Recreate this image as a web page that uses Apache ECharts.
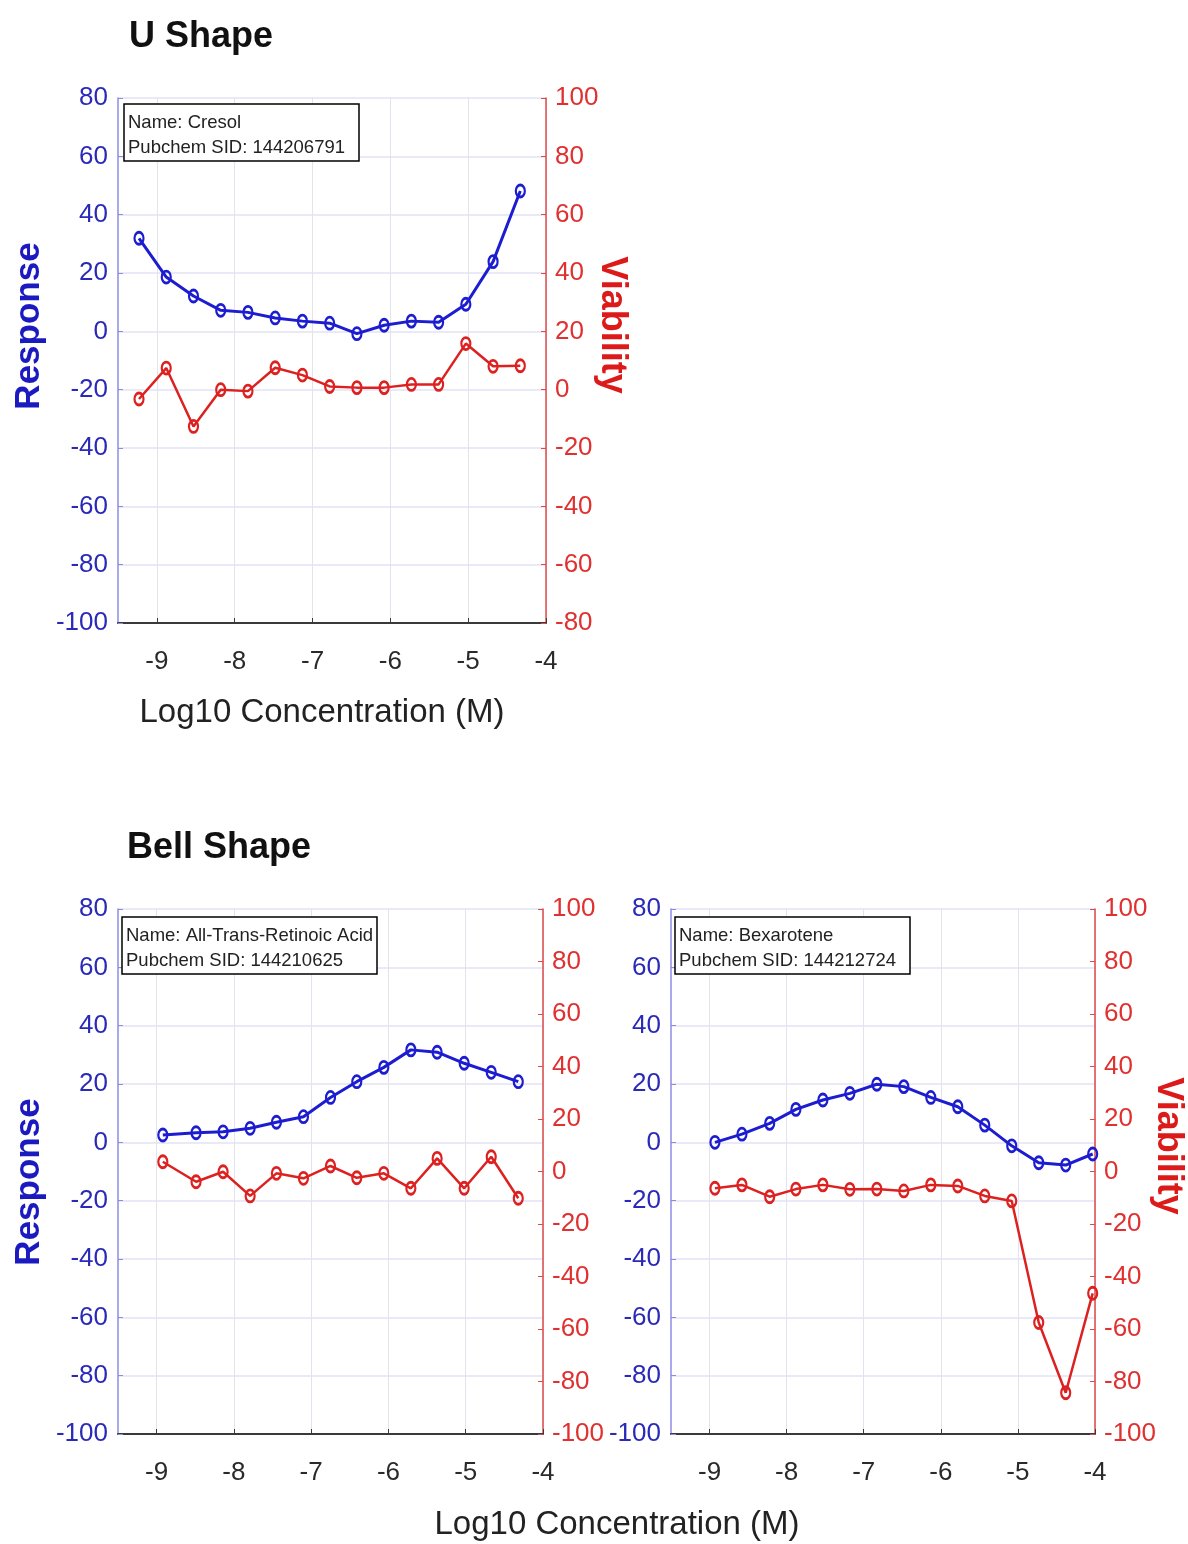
<!DOCTYPE html>
<html><head><meta charset="utf-8">
<script src="https://cdn.jsdelivr.net/npm/echarts@6/dist/echarts.min.js"></script>
<style>html,body{margin:0;padding:0;background:#fff;} #c{width:1188px;height:1544px;}</style>
</head><body><div id="c"></div>
<script>
// ---- data ----
const xTickValues = [-9, -8, -7, -6, -5, -4];

const cresolConc = [-9.23, -8.88, -8.53, -8.18, -7.83, -7.48, -7.13, -6.78, -6.43, -6.08, -5.73, -5.38, -5.03, -4.68, -4.33];
const cresolResponse = [31.9, 18.6, 12.1, 7.2, 6.5, 4.6, 3.5, 2.8, -0.8, 2.1, 3.5, 3.1, 9.3, 23.9, 48.1];
const cresolViability = [-3.2, 7.4, -12.6, 0, -0.5, 7.5, 5, 1.1, 0.7, 0.7, 1.8, 1.8, 15.8, 8, 8.2];

const atraConc = [-8.92, -8.49, -8.14, -7.79, -7.45, -7.10, -6.75, -6.41, -6.06, -5.71, -5.37, -5.02, -4.67, -4.32];
const atraResponse = [2.5, 3.3, 3.6, 4.8, 6.9, 8.8, 15.4, 20.8, 25.7, 31.7, 30.9, 27.1, 24.0, 20.8];
const atraViability = [3.7, -3.9, -0.1, -9.3, -0.7, -2.6, 2.1, -2.4, -0.7, -6.4, 5.0, -6.4, 5.6, -10.2];

const bexConc = [-8.93, -8.58, -8.22, -7.88, -7.53, -7.18, -6.83, -6.48, -6.13, -5.78, -5.43, -5.08, -4.73, -4.38, -4.03];
const bexResponse = [0, 2.8, 6.5, 11.3, 14.5, 16.8, 19.9, 19.1, 15.4, 12.2, 5.9, -1.2, -7.0, -7.8, -4.0];
const bexViability = [-6.4, -5.1, -9.6, -6.7, -5.1, -6.8, -6.7, -7.4, -5.1, -5.5, -9.3, -11.2, -57.5, -84.3, -46.4];

const boxTexts = [
  'Name: Cresol\nPubchem SID: 144206791',
  'Name: All-Trans-Retinoic Acid\nPubchem SID: 144210625',
  'Name: Bexarotene\nPubchem SID: 144212724'
];

// ---- styling ----
const BLUE = '#1c1cd0', RED = '#dd2020';
const BLUE_AX = '#8c8ce6', RED_AX = '#dd4a4a';
const tickFont = "'Liberation Sans',Arial,sans-serif";
const mainFont = "'Liberation Sans',Arial,sans-serif";
const TICK_FS = 26;

const zip = (xs, ys) => xs.map((x, i) => [x, ys[i]]);

const grids = [
  {left: 118, top: 98, width: 428, height: 525},
  {left: 118, top: 909, width: 425, height: 525},
  {left: 671, top: 909, width: 424, height: 525}
];

function makeX(i) {
  return {
    type: 'value', gridIndex: i, min: -9.5, max: -4,
    axisLine: {show: true, onZero: false, lineStyle: {color: '#3a3a3a', width: 2}},
    axisTick: {show: true, inside: true, length: 5, customValues: xTickValues, lineStyle: {color: '#3a3a3a'}},
    axisLabel: {customValues: xTickValues, margin: 26, color: '#2a2a2a', fontSize: TICK_FS, fontFamily: tickFont},
    splitLine: {show: true, lineStyle: {color: '#e3e3ee', width: 1}}
  };
}
function makeLeftY(i) {
  return {
    type: 'value', gridIndex: i, position: 'left', min: -100, max: 80, interval: 20,
    axisLine: {show: true, lineStyle: {color: BLUE_AX, width: 1.5}},
    axisTick: {show: true, inside: true, length: 5, lineStyle: {color: BLUE_AX}},
    axisLabel: {margin: 10, color: '#2a2ab8', fontSize: TICK_FS, fontFamily: tickFont},
    splitLine: {show: true, lineStyle: {color: '#e2e2f4', width: 1.5}}
  };
}
function makeRightY(i, min) {
  return {
    type: 'value', gridIndex: i, position: 'right', min: min, max: 100, interval: 20,
    axisLine: {show: true, lineStyle: {color: RED_AX, width: 1.5}},
    axisTick: {show: true, inside: true, length: 5, lineStyle: {color: RED_AX}},
    axisLabel: {margin: 9, color: '#e03030', fontSize: TICK_FS, fontFamily: tickFont},
    splitLine: {show: false}
  };
}
function makeSeries(xi, yi, data, color, lw) {
  return {
    type: 'line', xAxisIndex: xi, yAxisIndex: yi, data: data,
    symbol: 'circle', symbolSize: [9, 12],
    lineStyle: {color: color, width: lw},
    itemStyle: {color: 'rgba(255,255,255,0)', borderColor: color, borderWidth: 2.5},
    emphasis: {disabled: true}, animation: false, z: 3
  };
}
function boxTitle(text, left, top, padRight) {
  return {
    text: text, left: left, top: top,
    borderColor: '#000', borderWidth: 1.5, backgroundColor: '#fff',
    padding: [6, padRight, 1, 4],
    textStyle: {fontSize: 18.5, fontWeight: 'normal', fontFamily: mainFont, color: '#222', lineHeight: 25}
  };
}
function label(text, x, y, opts) {
  return Object.assign({
    type: 'text', x: x, y: y, z: 10,
    style: Object.assign({text: text, align: 'center', verticalAlign: 'middle', fontFamily: mainFont}, opts.style)
  }, opts.el || {});
}

const option = {
  backgroundColor: '#fff',
  animation: false,
  grid: grids,
  xAxis: [makeX(0), makeX(1), makeX(2)],
  yAxis: [makeLeftY(0), makeRightY(0, -80), makeLeftY(1), makeRightY(1, -100), makeLeftY(2), makeRightY(2, -100)],
  title: [
    boxTitle(boxTexts[0], 124, 104, 14),
    boxTitle(boxTexts[1], 122, 917, 4),
    boxTitle(boxTexts[2], 675, 917, 14)
  ],
  series: [
    makeSeries(0, 0, zip(cresolConc, cresolResponse), BLUE, 3),
    makeSeries(0, 1, zip(cresolConc, cresolViability), RED, 2.5),
    makeSeries(1, 2, zip(atraConc, atraResponse), BLUE, 3),
    makeSeries(1, 3, zip(atraConc, atraViability), RED, 2.5),
    makeSeries(2, 4, zip(bexConc, bexResponse), BLUE, 3),
    makeSeries(2, 5, zip(bexConc, bexViability), RED, 2.5)
  ],
  graphic: [
    label('U Shape', 129, 37, {style: {align: 'left', fontSize: 36, fontWeight: 'bold', fill: '#111'}}),
    label('Bell Shape', 127, 848, {style: {align: 'left', fontSize: 36, fontWeight: 'bold', fill: '#111'}}),
    label('Response', 29, 326, {style: {fontSize: 35, fontWeight: 'bold', fill: '#1a1ac0'}, el: {rotation: Math.PI / 2}}),
    label('Response', 29, 1182, {style: {fontSize: 35, fontWeight: 'bold', fill: '#1a1ac0'}, el: {rotation: Math.PI / 2}}),
    label('Viability', 612, 325, {style: {fontSize: 36, fontWeight: 'bold', fill: '#dd1a1a'}, el: {rotation: -Math.PI / 2}}),
    label('Viability', 1168, 1146, {style: {fontSize: 36, fontWeight: 'bold', fill: '#dd1a1a'}, el: {rotation: -Math.PI / 2}}),
    label('Log10 Concentration (M)', 322, 713, {style: {fontSize: 33, fill: '#222'}}),
    label('Log10 Concentration (M)', 617, 1525, {style: {fontSize: 33, fill: '#222'}})
  ]
};

const chart = echarts.init(document.getElementById('c'));
chart.setOption(option);
</script>
</body></html>
